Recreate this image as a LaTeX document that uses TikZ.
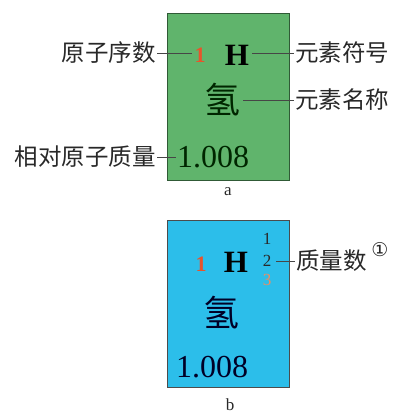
\documentclass[tikz,border=0pt]{standalone}
\usepackage{fontspec}
\setmainfont{Liberation Serif}
\newfontfamily\cjk{Noto Sans CJK SC}
\newfontfamily\symf{DejaVu Sans}
\definecolor{boxgreen}{RGB}{96,180,108}
\definecolor{boxblue}{RGB}{44,190,234}
\definecolor{numred}{RGB}{232,84,44}
\definecolor{numorange}{RGB}{240,140,96}
\definecolor{txt}{RGB}{40,40,40}
\definecolor{lead}{RGB}{70,70,70}
\tikzset{
  elbox/.style={draw=#1!50!black, fill=#1, line width=0.8pt, minimum width=122pt, minimum height=167pt, inner sep=0pt},
  lab/.style={font=\cjk\fontsize{23.5}{25}\selectfont, text=txt, inner sep=1pt},
  anum/.style={font=\bfseries\fontsize{22}{24}\selectfont, text=numred, inner sep=2pt},
  sym/.style={font=\bfseries\fontsize{31}{33}\selectfont, text=black, inner sep=3pt},
  ename/.style={font=\cjk\fontsize{36}{38}\selectfont, text=black!85!green, inner sep=3pt},
  mass/.style={font=\fontsize{32}{34}\selectfont, text=black!85!green, inner sep=1pt},
  iso/.style={font=\fontsize{17}{18}\selectfont, inner sep=1pt},
  leadline/.style={draw=lead, line width=0.8pt},
  subcap/.style={font=\fontsize{17}{18}\selectfont, text=txt, inner sep=0pt}
}
\begin{document}
\begin{tikzpicture}[x=1pt,y=-1pt]
\useasboundingbox (0,0) rectangle (396,413);
% box a
\node[elbox=boxgreen] (boxA) at (228,96.5) {};
\node[anum] (numA) at (200,55) {1};
\node[sym] (HA) at (237,55) {H};
\node[ename] (qA) at (222,100) {氢};
\node[mass] (mA) at (213,157) {1.008};
\node[lab, anchor=east] (l1) at (157,53) {原子序数};
\node[lab, anchor=west] (l2) at (294,53) {元素符号};
\node[lab, anchor=west] (l3) at (294,100) {元素名称};
\node[lab, anchor=east] (l4) at (157,157) {相对原子质量};
\draw[leadline] (l1.east) -- (numA.west |- l1.east);
\draw[leadline] (HA.east |- l2.west) -- (l2.west);
\draw[leadline] (qA.east |- l3.west) -- (l3.west);
\draw[leadline] (l4.east) -- (mA.west |- l4.east);
\node[subcap] (ca) at (228,192) {a};
% box b
\node[elbox=boxblue, draw=black!70] (boxB) at (228,303.5) {};
\node[anum] (numB) at (201,264) {1};
\node[sym] (HB) at (236,262) {H};
\node[iso, text=txt] (i1) at (267,239) {1};
\node[iso, text=txt, inner sep=5pt] (i2) at (267,261) {2};
\node[iso, text=numorange] (i3) at (267,280) {3};
\node[ename, text=black!85!blue] (qB) at (221,313) {氢};
\node[mass, text=black!85!blue] (mB) at (212,367) {1.008};
\node[lab, anchor=west] (l5) at (295,261) {质量数};
\node[font=\symf\fontsize{19}{20}\selectfont, text=txt, inner sep=0pt] (c1) at (380,250) {①};
\draw[leadline] (i2.east) -- (l5.west);
\node[subcap] (cb) at (230,405) {b};
\end{tikzpicture}
\end{document}
